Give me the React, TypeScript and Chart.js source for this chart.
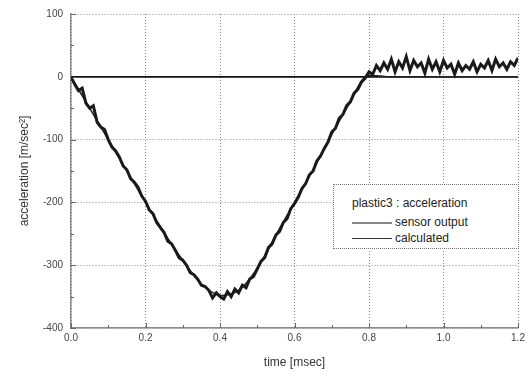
import React, { useEffect, useRef } from "react";
import { Chart, registerables } from "chart.js";

Chart.register(...registerables);

const sensorTimes = [
  0.0, 0.01, 0.02, 0.03, 0.04, 0.05, 0.06, 0.07, 0.08, 0.09,
  0.1, 0.11, 0.12, 0.13, 0.14, 0.15, 0.16, 0.17, 0.18, 0.19,
  0.2, 0.21, 0.22, 0.23, 0.24, 0.25, 0.26, 0.27, 0.28, 0.29,
  0.3, 0.31, 0.32, 0.33, 0.34, 0.35, 0.36, 0.37, 0.38, 0.39,
  0.4, 0.41, 0.42, 0.43, 0.44, 0.45, 0.46, 0.47, 0.48, 0.49,
  0.5, 0.51, 0.52, 0.53, 0.54, 0.55, 0.56, 0.57, 0.58, 0.59,
  0.6, 0.61, 0.62, 0.63, 0.64, 0.65, 0.66, 0.67, 0.68, 0.69,
  0.7, 0.71, 0.72, 0.73, 0.74, 0.75, 0.76, 0.77, 0.78, 0.79,
  0.8, 0.81, 0.82, 0.83, 0.84, 0.85, 0.86, 0.87, 0.88, 0.89,
  0.9, 0.91, 0.92, 0.93, 0.94, 0.95, 0.96, 0.97, 0.98, 0.99,
  1.0, 1.01, 1.02, 1.03, 1.04, 1.05, 1.06, 1.07, 1.08, 1.09,
  1.1, 1.11, 1.12, 1.13, 1.14, 1.15, 1.16, 1.17, 1.18, 1.19,
  1.2,
];

const sensorOutput = [
  0, -12, -22, -18, -42, -50, -46, -72, -80, -84,
  -100, -112, -118, -128, -142, -148, -162, -168, -176, -190,
  -198, -212, -218, -232, -240, -248, -262, -266, -276, -288,
  -292, -300, -312, -315, -322, -332, -334, -340, -352, -344,
  -350, -354, -342, -350, -338, -344, -332, -336, -322, -318,
  -306, -294, -288, -272, -266, -252, -246, -232, -226, -210,
  -202, -192, -178, -170, -156, -150, -134, -126, -114, -104,
  -88, -82, -66, -60, -46, -40, -26, -20, -8, -2,
  8, 4, 18, 10, 22, 12, 28, 8, 24, 14,
  32, 10, 26, 16, 22, 6, 28, 12, 24, 8,
  26, 14, 20, 4, 22, 10, 18, 12, 24, 8,
  20, 14, 26, 10, 28, 16, 22, 12, 24, 18,
  30,
];

const calcTimes = [0, 0.05, 0.1, 0.15, 0.2, 0.25, 0.3, 0.35, 0.4, 0.45, 0.5, 0.55, 0.6, 0.65, 0.7, 0.75, 0.79, 0.85, 1.2];
const calcValues = [0, -50, -100, -150, -200, -248, -292, -330, -348, -340, -305, -252, -200, -148, -92, -40, 0, 0, 0];

const xTicks = [0, 0.2, 0.4, 0.6, 0.8, 1.0, 1.2];
const xMinorTicks = [0.1, 0.3, 0.5, 0.7, 0.9, 1.1];
const yTicks = [100, 0, -100, -200, -300, -400];
const yMinorTicks = [50, -50, -150, -250, -350];

const legendTitle = "plastic3 : acceleration";
const seriesNames = ["sensor output", "calculated"];

const FONT = "'Liberation Sans', Arial, sans-serif";

export default function App() {
  const ref = useRef<HTMLCanvasElement | null>(null);

  useEffect(() => {
    document.body.style.margin = "0";
    const canvas = ref.current;
    if (!canvas) return;

    const extras = {
      id: "extras",
      beforeDatasetsDraw(chart: any) {
        const { ctx, chartArea, scales } = chart;
        const xs = scales.x;
        const ys = scales.y;
        ctx.save();
        ctx.strokeStyle = "#111";
        ctx.lineWidth = 1.8;
        const y0 = ys.getPixelForValue(0);
        ctx.beginPath();
        ctx.moveTo(chartArea.left, y0);
        ctx.lineTo(chartArea.right, y0);
        ctx.stroke();
        ctx.strokeStyle = "#666";
        ctx.lineWidth = 1;
        const drawX = (v: number, len: number) => {
          const px = Math.round(xs.getPixelForValue(v)) + 0.5;
          ctx.beginPath();
          ctx.moveTo(px, chartArea.bottom);
          ctx.lineTo(px, chartArea.bottom - len);
          ctx.stroke();
        };
        const drawY = (v: number, len: number) => {
          const py = Math.round(ys.getPixelForValue(v)) + 0.5;
          ctx.beginPath();
          ctx.moveTo(chartArea.left, py);
          ctx.lineTo(chartArea.left + len, py);
          ctx.stroke();
        };
        xTicks.forEach((v) => drawX(v, 5));
        xMinorTicks.forEach((v) => drawX(v, 3));
        yTicks.forEach((v) => drawY(v, 5));
        yMinorTicks.forEach((v) => drawY(v, 3));
        ctx.restore();
      },
    };

    const chart = new Chart(canvas, {
      type: "line",
      data: {
        datasets: [
          {
            label: seriesNames[1],
            data: calcTimes.map((t, i) => ({ x: t, y: calcValues[i] })),
            borderColor: "#222",
            borderWidth: 1.5,
            pointRadius: 0,
            tension: 0.3,
            order: 2,
          },
          {
            label: seriesNames[0],
            data: sensorTimes.map((t, i) => ({ x: t, y: sensorOutput[i] })),
            borderColor: "#1a1a1a",
            borderWidth: 3,
            pointRadius: 0,
            tension: 0,
            order: 1,
          },
        ],
      },
      options: {
        responsive: false,
        animation: false,
        events: [],
        layout: { padding: { top: 11, right: 11, left: 0, bottom: 0 } },
        plugins: {
          legend: { display: false },
          tooltip: { enabled: false },
        },
        scales: {
          x: {
            type: "linear",
            min: 0,
            max: 1.2,
            afterFit: (s: any) => {
              s.height = 46;
            },
            afterBuildTicks: (s: any) => {
              s.ticks = xTicks.map((v) => ({ value: v }));
            },
            ticks: {
              padding: 4,
              color: "#444",
              font: { family: FONT, size: 10 },
              callback: (v: any) => Number(v).toFixed(1),
            },
            grid: {
              drawTicks: false,
              color: "#8a8a8a",
              lineWidth: 1,
            },
            border: { color: "#8a8a8a", width: 1.5, dash: [1, 2] },
            title: {
              display: true,
              text: "time [msec]",
              color: "#333",
              font: { family: FONT, size: 12 },
              padding: { top: 0, bottom: 4 },
            },
          },
          y: {
            type: "linear",
            min: -400,
            max: 100,
            afterFit: (s: any) => {
              s.width = 71;
            },
            afterBuildTicks: (s: any) => {
              s.ticks = yTicks.map((v) => ({ value: v }));
            },
            ticks: {
              padding: 8,
              color: "#444",
              font: { family: FONT, size: 10 },
            },
            grid: {
              drawTicks: false,
              color: "#8a8a8a",
              lineWidth: 1,
            },
            border: { color: "#8a8a8a", width: 1.5, dash: [1, 2] },
            title: {
              display: true,
              text: "acceleration [m/sec²]",
              color: "#333",
              font: { family: FONT, size: 12 },
              padding: { top: 17, bottom: 0 },
            },
          },
        },
      },
      plugins: [extras],
    } as any);

    return () => chart.destroy();
  }, []);

  const lineStyle = (color: string, w: number): React.CSSProperties => ({
    position: "absolute",
    left: 18,
    width: 40,
    height: 0,
    borderTop: `${w}px solid ${color}`,
  });

  return (
    <div style={{ position: "relative", width: 529, height: 374, background: "#fff" }}>
      <canvas ref={ref} width={529} height={374} style={{ display: "block" }} />
      <div
        style={{
          position: "absolute",
          left: 333,
          top: 184,
          width: 184,
          height: 63,
          border: "1px dotted #777",
          background: "#fff",
          fontFamily: FONT,
          fontSize: 12,
          color: "#222",
        }}
      >
        <div style={{ position: "absolute", left: 18, top: 11, whiteSpace: "nowrap" }}>{legendTitle}</div>
        <div style={{ ...lineStyle("#888", 2), top: 37 }} />
        <div style={{ position: "absolute", left: 61, top: 30, whiteSpace: "nowrap" }}>{seriesNames[0]}</div>
        <div style={{ ...lineStyle("#333", 1.5), top: 53 }} />
        <div style={{ position: "absolute", left: 61, top: 46, whiteSpace: "nowrap" }}>{seriesNames[1]}</div>
      </div>
    </div>
  );
}
